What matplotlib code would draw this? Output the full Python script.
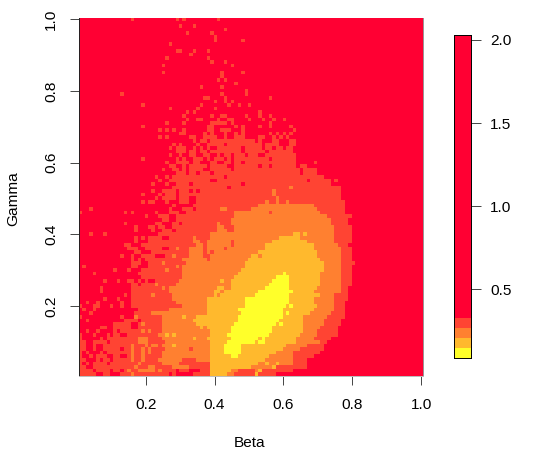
import numpy as np
import matplotlib
matplotlib.use("Agg")
import matplotlib.pyplot as plt
from matplotlib.colors import ListedColormap, BoundaryNorm

plt.rcParams["font.family"] = ["Liberation Sans", "DejaVu Sans"]
plt.rcParams["font.size"] = 11.1

W, H = 544, 467

COLOURS = ["#FFFF2A", "#FFB92D", "#FF8030", "#FF4433", "#FF0033"]
BREAKS = [0.085, 0.145, 0.205, 0.265, 0.325, 2.03]
XTICKS = [0.2, 0.4, 0.6, 0.8, 1.0]
YTICKS = [0.2, 0.4, 0.6, 0.8, 1.0]
BAR_TICKS = [0.5, 1.0, 1.5, 2.0]

# colour band of every cell, top row first (gamma 1.00 down to 0.01), beta left to right
R = "4444444444 "
BANDS = [
    R + "4444434444 4444444434 3444444444 3444444444 " + R * 5,
    R * 10,
    R + R + "4444444443 4443444444 " + R * 6,
    R * 4 + "4434444444 " + R * 5,
    R * 3 + "4344444434 " + R * 6,
    R * 3 + "4444444443 " + R * 6,
    R * 3 + "4444444443 4444444344 " + R * 5,
    R * 2 + "4444443444 " + R * 7,
    R * 10,
    R * 2 + "4444444433 4443444344 " + R * 6,
    R * 3 + "4434444444 " + R * 6,
    R * 2 + "4444434444 4444444344 " + R * 6,
    R * 3 + "4444444434 4434444444 " + R * 5,
    R * 2 + "4444344444 " + R + "4444344444 " + R * 5,
    R * 10,
    R * 2 + "4444344444 " + R + "4344444344 " + R * 5,
    R * 4 + "4344444444 " + R * 5,
    R * 4 + "3434444444 " + R * 5,
    R * 4 + "4444434444 " + R * 5,
    R * 3 + "4444434444 4344444444 " + R * 5,
    R * 4 + "4444444434 " + R * 5,
    R + "4434444444 " + R * 2 + "4344444434 " + R * 5,
    R * 3 + "4444443344 4434444444 4444434444 " + R * 4,
    R * 3 + "4444444443 4434344444 " + R * 5,
    R + "4444444434 " + R + "4444434444 4443443443 " + R * 5,
    R * 2 + "4444443444 4444344443 " + R * 6,
    R * 3 + "4343444444 " + R + "4434444444 " + R * 4,
    R * 3 + "3444444434 4334444434 4434434444 " + R * 4,
    R * 3 + "4344334444 3443344443 4443443443 " + R * 4,
    R * 2 + "4444434444 3444444433 3334344444 4444434444 " + R * 4,
    R + "4444444434 " + R + "4444444334 4444434344 4434434444 4344444444 " + R * 3,
    R * 2 + "4443434344 3444444334 4333444344 " + R + "4434444444 " + R * 3,
    R * 2 + "4444444443 3444443434 4434434344 4444434343 4344444444 " + R * 3,
    R * 2 + "4443434444 4433443333 4434433344 4433443434 3444444444 " + R * 3,
    R * 3 + "4443433433 3333333333 3434443344 4334444444 " + R * 3,
    R * 2 + "4444444343 4444344333 3343333333 3334333344 4334444444 " + R * 3,
    R * 2 + "4444443433 3443434344 3333333433 3334334334 3344444444 " + R * 3,
    R * 2 + "4444444433 3433433433 3333333433 3333433333 3344444444 " + R * 3,
    R * 2 + "4444443443 4433443344 3433433343 3344333333 3334444444 " + R * 3,
    R + "4444444434 4444444434 3443334343 3343433333 3333343333 3334444444 " + R * 3,
    R * 2 + "4444434433 3343344433 4433433433 3333333333 3334444434 " + R * 3,
    R * 2 + "4444443344 3433333433 3334433333 3343343333 3334334444 " + R * 3,
    R * 2 + "4444344334 3433334433 3333433333 3333333333 3333433334 " + R * 3,
    R * 2 + "4444444433 3433433343 3333333333 3333333333 3333433334 " + R * 3,
    R * 2 + "4434434333 3333333333 3343333333 3333333333 3333333333 3444444444 " + R * 2,
    R * 2 + "4443443333 3333333344 3333333333 3333333333 3333334333 3334344444 " + R * 2,
    R * 2 + "4344434433 3343333333 3333333433 3333333333 3333333333 3334444444 " + R * 2,
    R * 2 + "4444444333 3333333333 3334333333 3333333333 3233333333 3333334444 " + R * 2,
    R * 2 + "4344333343 3343433333 3333333333 3333332333 3333333333 3333334444 " + R * 2,
    R + "4444444434 4443433343 3333333333 3333333333 3333332333 3333333333 3333334444 " + R * 2,
    R * 2 + "4434333343 3344333333 3333333333 3333333233 3333333333 3333334444 " + R * 2,
    R + "4444444434 3344434443 3344333333 3333333333 3333233233 2333333333 3333333444 " + R * 2,
    R * 2 + "4444444344 4443333333 3333333333 3322222222 2222222233 3333333444 " + R * 2,
    "4443444444 " + R + "4444443444 3334333333 3223333333 2222222222 2222222223 3333333444 " + R * 2,
    "3444444444 4443434444 4434443334 4333333333 3333322222 2222232222 2222222222 3333333444 " + R * 2,
    R + "4444444443 4443334433 3333333333 3333322222 2222222222 2222222222 2233333334 " + R * 2,
    R * 2 + "4444334433 3333333333 3333222222 2222222222 2222222222 2223333344 " + R * 2,
    R + "4443444444 4433444334 3333333333 2333222222 2222222222 2222222222 2223333344 " + R * 2,
    R + "4444443444 3343344333 3333333333 2233322222 2222222222 2222222222 2222333334 " + R * 2,
    R + "4444443444 4344333433 3333333333 2223322222 2222222222 2222222222 2222333334 " + R * 2,
    "4443444344 " + R + "4443333333 3333333322 2222222222 2222222222 2211212222 2222333334 " + R * 2,
    R + "4444443434 3333443333 3332333322 2222222222 2222222211 1111222222 2222333334 " + R * 2,
    R + "4444443444 3333333333 3332233222 2222322222 2222221111 1111112222 2222333334 " + R * 2,
    R + "4443344433 3333333333 3333223222 2222322222 2222111111 1111111122 2222233344 " + R * 2,
    R + "4444333443 3333443323 3322223222 2232222222 2222111111 1111111122 2222223334 " + R * 2,
    R + "4444443344 4333333333 3322223232 2222222222 2211111111 1111111112 2222223334 " + R * 2,
    R + "4434434433 3344433233 3322223322 2222222222 1121111111 1111111112 2222223334 " + R * 2,
    R + "4444434343 3333333333 2222222322 2222222221 1111111111 1111111111 2222223334 " + R * 2,
    R + "4444433344 3333233333 3222222222 2222222211 1111111111 1111111111 1222223333 " + R * 2,
    "4344444444 4444433444 3333333323 2222222222 2222222211 1111111111 1111111111 1222223334 " + R * 2,
    R + "3444344433 3333323333 2222222222 2222222111 1111111111 1111111111 1222223334 " + R * 2,
    "4444344444 4444444333 3333333333 2222222222 2222221111 1111111110 1111111111 2222223334 " + R * 2,
    R + "4444444433 3333333333 2222222222 2222211111 1111111000 0111111111 2222223334 " + R * 2,
    "4444444344 4344334343 4433333332 2222222222 2122111111 1111110000 0111111111 2222223334 " + R * 2,
    R + "4444433433 3323333322 2222222222 2222111111 1111100000 0111111111 2222223334 " + R * 2,
    "4444443444 4444433333 3333232222 2222222222 1122111111 1111000000 0111111112 2222223344 " + R * 2,
    "4444443444 4444433333 3333332222 2222222221 1211111111 1100000000 0011111122 2222223344 " + R * 2,
    R + "4443433333 3233333222 2222222221 2111111111 1000000000 0111111111 2222333344 " + R * 2,
    "4444444344 4344433333 3333333222 2222222111 1111111100 0000000000 0111111122 2222333344 " + R * 2,
    "4434434444 4434433333 3333333322 2222222111 1111111100 0000000000 0111111122 2222333444 " + R * 2,
    "3444334443 4434433333 3333333333 2222222111 1111111100 0000000000 1011111112 2222333444 " + R * 2,
    "4344344444 4444444333 3333332222 2222222111 1111110000 0000000001 1111111122 2222333444 " + R * 2,
    "4443444444 4444443333 3222222222 2222222111 1111111000 0000000001 0111111222 2223333444 " + R * 2,
    "3444444444 4434442333 3333222222 1222111111 1111110000 0000000001 1111122222 2233333444 " + R * 2,
    "4434444444 4443333433 3333222222 2221111111 1111110000 0000000011 1111122222 2333334444 " + R * 2,
    R + "3333344323 3333222222 2222111111 1111100000 0000000101 1111122222 2333334444 " + R * 2,
    "4444443344 3333344333 3333222222 2222212111 1111000000 0000001111 1111122222 3333344444 " + R * 2,
    "4434434444 3433333323 2333222222 2222222211 1111000000 0000001111 1111122223 3333344444 " + R * 2,
    "3444344434 3344333333 3332212122 2222222211 1110000000 0000011111 1111222223 3333344444 " + R * 2,
    "3444443433 3333333222 3333222222 2221222111 1111000000 0010111111 1112222233 3334444444 " + R * 2,
    "3344333343 3333333222 3333322222 2222222211 1110000000 0100111111 1112222222 3344444444 " + R * 2,
    "3344344333 3333323332 3223222122 2222222211 1100000111 1111111111 2222223333 3444444444 " + R * 2,
    "3344344333 3343323323 2333322222 2232222211 1100000111 1111111112 2222333333 3444444444 " + R * 2,
    "3434443433 3333323323 2333222222 2222222211 1100000111 1111111222 2233333333 " + R * 3,
    "3443433344 3344323323 3333222222 2222222211 1111001111 1111122222 2233333344 " + R * 3,
    "3344434334 3333323323 3332222222 3333222211 1111111111 1111222222 2233334444 " + R * 3,
    "3434333343 3333333233 3333222223 3333333311 1111111111 1122122122 2233334444 " + R * 3,
    "3344333333 3333332333 2233333222 2233333311 1111111111 2222221333 3333334444 " + R * 3,
    "3333433334 3343233222 2232333343 3344433311 1111223333 3213333333 3344444444 " + R * 3,
    "3333344334 4433323333 3333334344 4443333311 1112233333 3133333444 " + R * 4,
]

z = np.array([[int(c) for c in row.replace(" ", "")[:100]] for row in BANDS])

cmap = ListedColormap(COLOURS)
norm = BoundaryNorm(np.arange(-0.5, 5.5), cmap.N)

fig = plt.figure(figsize=(W / 100, H / 100), dpi=100)

# main panel, placed by pixel
ax = fig.add_axes([78.5 / W, (H - 376) / H, 344.5 / W, 358.5 / H])
ax.imshow(z, cmap=cmap, norm=norm, extent=(0.005, 1.005, 0.005, 1.005),
          origin="upper", aspect="auto", interpolation="nearest")
ax.set_xlim(0.005, 1.005)
ax.set_ylim(0.005, 1.005)
ax.set_xticks(XTICKS)
ax.set_yticks(YTICKS)
ax.set_xticklabels([f"{t:.1f}" for t in XTICKS])
ax.set_yticklabels([f"{t:.1f}" for t in YTICKS], rotation=90, va="center")
ax.tick_params(length=6.5, width=0.7, color="#444444")
ax.tick_params(axis="x", pad=9.5)
ax.tick_params(axis="y", pad=8)
ax.spines["top"].set_visible(False)
ax.spines["left"].set_color("#222222")
ax.spines["right"].set_color("#999999")
ax.spines["bottom"].set_color("#bbbbbb")
for s in ax.spines.values():
    s.set_linewidth(0.7)
fig.text(250 / W, 1 - 443 / H, "Beta", ha="center", va="center")
fig.text(13 / W, 1 - 199 / H, "Gamma", ha="center", va="center", rotation=90)

# colour key
cax = fig.add_axes([453.5 / W, (H - 358) / H, 17 / W, 323 / H])
for i, c in enumerate(COLOURS):
    cax.fill_between([0, 1], BREAKS[i], BREAKS[i + 1], color=c, lw=0)
cax.set_xlim(0, 1)
cax.set_ylim(BREAKS[0], BREAKS[-1])
cax.set_xticks([])
cax.yaxis.tick_right()
cax.set_yticks(BAR_TICKS)
cax.set_yticklabels([f"{t:.1f}" for t in BAR_TICKS])
cax.tick_params(length=7, width=0.7, color="#444444", pad=7)
for s in cax.spines.values():
    s.set_linewidth(0.7)

fig.savefig("out.png", dpi=100)
